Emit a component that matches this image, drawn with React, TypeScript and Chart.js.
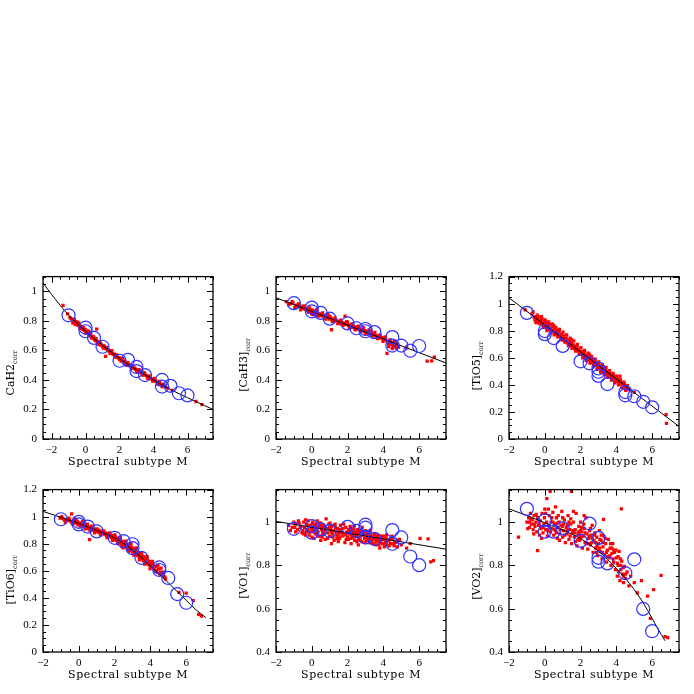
import React, { useEffect, useRef } from "react";
import { Chart, registerables } from "chart.js";
Chart.register(...registerables);

// ---------------- data ----------------
const xTicks = [-2, 0, 2, 4, 6];
const yTicksA = [0, 0.2, 0.4, 0.6, 0.8, 1];
const yTicksB = [0, 0.2, 0.4, 0.6, 0.8, 1, 1.2];
const yTicksC = [0.4, 0.6, 0.8, 1];
const xTitle = "Spectral subtype M";

// CaH2 (flat x,y pairs)
const cah2Dots = [
  -1.32,0.905, -1.05,0.848, -0.92,0.822, -0.85,0.815, -0.78,0.808, -0.72,0.8, -0.68,0.792, -0.62,0.79,
  -0.58,0.782, -0.55,0.795, -0.5,0.78, -0.46,0.772, -0.42,0.778, -0.38,0.768, -0.35,0.762, -0.3,0.765,
  -0.27,0.755, -0.22,0.752, -0.18,0.745, -0.14,0.748, -0.1,0.74, -0.06,0.735, -0.02,0.742, 0.03,0.728,
  0.08,0.722, 0.12,0.716, 0.16,0.72, 0.2,0.708, 0.24,0.705, 0.28,0.7, 0.33,0.695, 0.37,0.69, 0.42,0.688,
  0.46,0.682, 0.52,0.676, 0.56,0.67, 0.62,0.664, 0.66,0.745, 0.7,0.658, 0.76,0.652, 0.82,0.646, 0.88,0.64,
  0.95,0.634, 1.02,0.628, 1.08,0.622, 1.14,0.616, 1.18,0.56, 1.22,0.61, 1.3,0.604, 1.36,0.597, 1.42,0.592,
  1.5,0.586, 1.58,0.578, 1.66,0.572, 1.74,0.565, 1.82,0.558, 1.9,0.552, 1.98,0.545, 2.06,0.54, 2.14,0.532,
  2.22,0.526, 2.3,0.52, 2.38,0.513, 2.46,0.508, 2.54,0.5, 2.62,0.495, 2.7,0.49, 2.78,0.482, 2.86,0.478,
  2.94,0.472, 3.02,0.467, 3.1,0.46, 3.18,0.456, 3.26,0.45, 3.34,0.444, 3.42,0.44, 3.5,0.433, 3.58,0.428,
  3.66,0.422, 3.74,0.416, 3.82,0.41, 3.9,0.406, 3.98,0.4, 4.06,0.395, 4.14,0.39, 4.22,0.385, 4.3,0.378,
  4.38,0.374, 4.46,0.368, 4.54,0.362, 4.62,0.358, 4.7,0.352, 4.85,0.345, 5.1,0.33, 6.5,0.254, 6.85,0.232,
  -0.6,0.775, -0.4,0.785, -0.2,0.76, 0.0,0.72, 0.1,0.73, 0.3,0.71, 0.5,0.685, 0.6,0.675, 0.9,0.645,
  1.1,0.63, 1.4,0.6, 1.7,0.575, 2.0,0.55, 2.3,0.525, 2.6,0.5, 2.9,0.48, 3.2,0.46, 3.5,0.44, 3.8,0.418,
  4.1,0.398, 4.4,0.37, 3.0,0.46, 2.0,0.538, 1.0,0.625,
  -0.75,0.785, -0.65,0.81, -0.45,0.79, -0.32,0.75, -0.12,0.755, 0.05,0.715, 0.18,0.73, 0.35,0.685,
  0.45,0.695, 0.62,0.68, 0.78,0.64, 0.85,0.655, 1.05,0.615, 1.25,0.62, 1.45,0.58, 1.55,0.598, 1.75,0.555,
  1.85,0.57, 2.1,0.528, 2.2,0.545, 2.4,0.5, 2.5,0.518, 2.7,0.478, 2.8,0.495, 3.05,0.455, 3.15,0.47,
  3.35,0.432, 3.45,0.45, 3.65,0.41, 3.75,0.428, 3.95,0.392, 4.05,0.41, 4.25,0.372, 4.35,0.39, 4.5,0.355,
  4.6,0.372,
];
const cah2Stds = [
  -1,0.838, 0,0.755, 0,0.73, 0.5,0.685, 1,0.625, 2,0.53, 2.5,0.536, 3,0.488, 3,0.46, 3.5,0.433,
  4.5,0.4, 4.5,0.355, 5,0.36, 5.5,0.31, 6,0.295,
];
const cah2Fit = [
  -2.5,1.057, -2,0.98, -1.5,0.907, -1,0.84, -0.5,0.785, 0,0.73, 0.5,0.68, 1,0.635, 1.5,0.59, 2,0.545,
  2.5,0.505, 3,0.47, 3.5,0.435, 4,0.4, 4.5,0.367, 5,0.335, 5.5,0.307, 6,0.28, 6.5,0.253, 7,0.227, 7.5,0.2,
];

// CaH3
const cah3Dots = [
  -1.42,0.93, -1.2,0.915, -1.05,0.92, -0.9,0.905, -0.8,0.9, -0.7,0.9, -0.6,0.892, -0.52,0.885, -0.45,0.888,
  -0.38,0.878, -0.3,0.882, -0.25,0.872, -0.18,0.875, -0.1,0.868, -0.05,0.858, 0.0,0.845, 0.05,0.87, 0.1,0.855,
  0.15,0.862, 0.2,0.85, 0.28,0.855, 0.35,0.845, 0.42,0.848, 0.5,0.838, 0.55,0.842, 0.62,0.832, 0.7,0.835,
  0.78,0.826, 0.85,0.83, 0.92,0.82, 1.0,0.812, 1.05,0.822, 1.1,0.74, 1.12,0.808, 1.2,0.812, 1.28,0.802,
  1.35,0.805, 1.42,0.795, 1.5,0.798, 1.58,0.79, 1.65,0.792, 1.72,0.784, 1.8,0.786, 1.86,0.832, 1.9,0.776,
  1.98,0.78, 2.05,0.77, 2.12,0.772, 2.2,0.764, 2.28,0.766, 2.35,0.756, 2.42,0.76, 2.5,0.75, 2.58,0.752,
  2.65,0.742, 2.72,0.745, 2.8,0.736, 2.88,0.738, 2.95,0.728, 3.02,0.732, 3.1,0.72, 3.18,0.724, 3.25,0.714,
  3.32,0.716, 3.4,0.706, 3.48,0.71, 3.55,0.7, 3.62,0.702, 3.7,0.692, 3.78,0.695, 3.85,0.684, 3.92,0.688,
  4.0,0.676, 4.08,0.68, 4.15,0.668, 4.2,0.58, 4.25,0.66, 4.32,0.664, 4.4,0.645, 4.45,0.655, 4.52,0.638,
  4.6,0.645, 4.68,0.628, 4.75,0.635, 4.85,0.622, 5.3,0.618, 6.45,0.528, 6.7,0.53, 6.85,0.555,
  0.3,0.835, 0.8,0.812, 1.6,0.78, 2.4,0.745, 3.0,0.715, 3.6,0.69, 4.3,0.645, 4.1,0.69, 2.0,0.79, 1.0,0.83,
  0.0,0.875, -0.5,0.9, 3.3,0.73,
  -1.3,0.91, -1.1,0.93, -0.95,0.89, -0.75,0.915, -0.62,0.875, -0.4,0.9, -0.2,0.86, -0.12,0.888, 0.08,0.842,
  0.25,0.872, 0.4,0.832, 0.6,0.855, 0.75,0.815, 0.9,0.842, 1.15,0.795, 1.3,0.82, 1.45,0.782, 1.62,0.805,
  1.75,0.77, 1.95,0.795, 2.1,0.755, 2.25,0.78, 2.45,0.74, 2.6,0.765, 2.75,0.728, 2.9,0.752, 3.05,0.712,
  3.2,0.738, 3.38,0.696, 3.52,0.722, 3.68,0.68, 3.82,0.705, 3.98,0.662, 4.12,0.688, 4.28,0.645, 4.38,0.672,
  4.55,0.625, 4.62,0.66, 4.72,0.618, 4.8,0.645, 4.3,0.625, 4.5,0.612,
];
const cah3Stds = [
  -1,0.92, 0,0.89, 0,0.865, 0.5,0.854, 1,0.815, 2,0.783, 2.5,0.75, 3,0.745, 3,0.73, 3.5,0.724,
  4.5,0.69, 4.5,0.633, 5,0.633, 5.5,0.598, 6,0.63,
];
const cah3Fit = [-2,0.957, 7.5,0.515];

// TiO5
const tio5Dots = [
  -1.1,0.955, -0.72,0.925, -0.6,0.9, -0.55,0.88, -0.5,0.905, -0.45,0.87, -0.4,0.89, -0.35,0.86, -0.3,0.9,
  -0.25,0.875, -0.2,0.855, -0.15,0.885, -0.1,0.845, -0.05,0.87, 0.0,0.83, 0.05,0.86, 0.1,0.82, 0.15,0.85,
  0.2,0.835, 0.25,0.81, 0.3,0.845, 0.35,0.82, 0.4,0.8, 0.45,0.83, 0.5,0.79, 0.55,0.81, 0.6,0.775, 0.65,0.8,
  0.7,0.785, 0.75,0.76, 0.8,0.79, 0.85,0.77, 0.9,0.75, 0.95,0.775, 1.0,0.73, 1.05,0.76, 1.1,0.74, 1.15,0.72,
  1.2,0.745, 1.25,0.71, 1.3,0.73, 1.35,0.7, 1.4,0.72, 1.45,0.69, 1.5,0.71, 1.55,0.68, 1.6,0.695, 1.65,0.67,
  1.7,0.685, 1.75,0.66, 1.8,0.675, 1.85,0.65, 1.9,0.665, 1.95,0.635, 2.0,0.65, 2.05,0.625, 2.1,0.645,
  2.15,0.615, 2.2,0.63, 2.25,0.6, 2.3,0.62, 2.35,0.595, 2.4,0.61, 2.45,0.585, 2.5,0.6, 2.55,0.575, 2.6,0.59,
  2.65,0.565, 2.7,0.58, 2.75,0.55, 2.8,0.57, 2.85,0.545, 2.9,0.56, 2.95,0.53, 3.0,0.55, 3.05,0.525, 3.1,0.54,
  3.15,0.51, 3.2,0.53, 3.25,0.5, 3.3,0.52, 3.35,0.495, 3.4,0.51, 3.45,0.48, 3.5,0.5, 3.55,0.475, 3.6,0.49,
  3.65,0.465, 3.7,0.48, 3.75,0.455, 3.8,0.47, 3.85,0.445, 3.9,0.46, 3.95,0.435, 4.0,0.45, 4.05,0.425,
  4.1,0.44, 4.15,0.415, 4.2,0.465, 4.25,0.42, 4.3,0.405, 4.35,0.415, 4.4,0.39, 4.45,0.405, 4.5,0.38,
  4.55,0.39, 4.6,0.37, 4.7,0.365, 5.0,0.345, 6.78,0.18, 6.8,0.115,
  -0.65,0.94, -0.5,0.86, -0.42,0.915, -0.28,0.85, -0.18,0.905, -0.08,0.825, 0.02,0.88, 0.12,0.8, 0.22,0.865,
  0.32,0.79, 0.42,0.85, 0.52,0.77, 0.62,0.825, 0.72,0.755, 0.82,0.81, 0.92,0.735, 1.02,0.79, 1.12,0.715,
  1.22,0.77, 1.32,0.69, 1.42,0.745, 1.52,0.67, 1.62,0.725, 1.72,0.65, 1.82,0.7, 1.92,0.625, 2.02,0.675,
  2.12,0.6, 2.22,0.655, 2.32,0.58, 2.42,0.635, 2.52,0.56, 2.62,0.61, 2.72,0.54, 2.82,0.59, 2.92,0.515,
  3.02,0.57, 3.12,0.495, 3.22,0.55, 3.32,0.475, 3.42,0.53, 3.52,0.455, 3.62,0.505, 3.72,0.435, 3.82,0.485,
  3.92,0.415, 4.02,0.465, 4.12,0.4, 4.22,0.44, 4.32,0.38, 4.42,0.42, 4.52,0.36, 4.62,0.395, 0.5,0.84,
  1.5,0.735, 2.5,0.625,
];
const tio5Stds = [
  -1,0.932, 0,0.798, 0,0.775, 0.5,0.746, 1,0.688, 2,0.574, 2.5,0.559, 3,0.521, 3,0.497, 3,0.466,
  3.5,0.406, 4.5,0.347, 4.5,0.323, 5,0.316, 5.5,0.275, 6,0.234,
];
const tio5Fit = [-2,1.043, 7.5,0.093];

// TiO6
const tio6Dots = [
  -1.05,0.99, -0.9,0.985, -0.8,0.975, -0.7,0.98, -0.6,0.97, -0.5,0.975, -0.42,0.96, -0.4,1.02, -0.3,0.965,
  -0.2,0.955, -0.15,0.97, -0.1,0.95, -0.05,0.94, 0.05,0.955, 0.1,0.945, 0.15,0.935, 0.2,0.95, 0.25,0.93,
  0.3,0.94, 0.35,0.925, 0.4,0.935, 0.45,0.92, 0.5,0.93, 0.55,0.912, 0.6,0.83, 0.65,0.92, 0.7,0.905,
  0.75,0.915, 0.8,0.9, 0.85,0.91, 0.9,0.895, 0.95,0.905, 1.0,0.888, 1.1,0.9, 1.15,0.88, 1.2,0.895, 1.3,0.875,
  1.35,0.89, 1.45,0.868, 1.5,0.88, 1.55,0.86, 1.6,0.875, 1.7,0.855, 1.75,0.87, 1.8,0.845, 1.85,0.86,
  1.9,0.84, 1.95,0.855, 2.0,0.83, 2.05,0.85, 2.1,0.825, 2.15,0.84, 2.2,0.815, 2.25,0.835, 2.3,0.805,
  2.35,0.825, 2.4,0.8, 2.45,0.815, 2.5,0.79, 2.55,0.81, 2.6,0.78, 2.65,0.8, 2.7,0.77, 2.75,0.79, 2.8,0.76,
  2.85,0.785, 2.9,0.75, 2.95,0.775, 3.0,0.74, 3.05,0.765, 3.1,0.73, 3.15,0.755, 3.2,0.72, 3.25,0.745,
  3.3,0.71, 3.35,0.735, 3.4,0.7, 3.45,0.725, 3.5,0.69, 3.55,0.71, 3.6,0.675, 3.65,0.705, 3.7,0.665,
  3.75,0.69, 3.8,0.655, 3.85,0.68, 3.9,0.645, 3.95,0.67, 4.0,0.635, 4.05,0.655, 4.1,0.625, 4.15,0.645,
  4.2,0.615, 4.3,0.63, 4.35,0.6, 4.45,0.615, 4.55,0.59, 4.65,0.575, 4.75,0.56, 4.85,0.54, 5.6,0.44,
  6.0,0.435, 6.4,0.38, 6.7,0.278, 6.85,0.266,
  -0.95,1.0, -0.75,0.96, -0.55,0.99, -0.35,0.945, -0.25,0.985, -0.08,0.965, 0.08,0.93, 0.22,0.965, 0.38,0.91,
  0.48,0.945, 0.62,0.9, 0.72,0.93, 0.88,0.88, 1.02,0.91, 1.22,0.865, 1.4,0.895, 1.58,0.845, 1.72,0.88,
  1.88,0.825, 2.02,0.865, 2.18,0.8, 2.32,0.845, 2.48,0.77, 2.62,0.82, 2.78,0.745, 2.92,0.8, 3.08,0.715,
  3.22,0.77, 3.38,0.68, 3.52,0.735, 3.68,0.65, 3.82,0.705, 3.98,0.615, 4.12,0.67, 4.28,0.595, 4.42,0.64,
  4.52,0.575, 4.6,0.62, 4.7,0.59, 4.8,0.555, 2.4,0.78, 3.0,0.76, 3.6,0.69,
];
const tio6Stds = [
  -1,0.981, 0,0.962, 0,0.943, 0.5,0.927, 1,0.891, 2,0.844, 2.5,0.82, 3,0.796, 3,0.768, 3.5,0.696,
  4.5,0.625, 4.5,0.606, 5,0.547, 5.5,0.428, 6,0.364,
];
const tio6Fit = [
  -2,1.039, -1,0.995, 0,0.95, 0.5,0.925, 1,0.898, 1.5,0.872, 2,0.843, 2.5,0.802, 3,0.755, 3.5,0.7,
  4,0.635, 4.5,0.575, 5,0.512, 5.5,0.447, 6,0.382, 6.5,0.318, 7.1,0.254,
];

// VO1
const vo1Dots = [
  -1.3,0.985, -1.1,0.975, -1.0,1.0, -0.9,0.99, -0.8,0.965, -0.7,0.995, -0.6,0.98, -0.5,0.96, -0.45,1.0,
  -0.4,0.975, -0.35,0.94, -0.3,0.99, -0.25,0.965, -0.2,1.005, -0.15,0.955, -0.1,0.985, -0.05,0.97, 0.0,0.93,
  0.05,1.0, 0.1,0.96, 0.15,0.985, 0.2,0.945, 0.25,0.975, 0.3,1.005, 0.35,0.955, 0.4,0.98, 0.45,0.935,
  0.5,0.995, 0.55,0.965, 0.6,0.945, 0.65,0.985, 0.7,0.96, 0.75,0.92, 0.8,1.015, 0.85,0.97, 0.9,0.95,
  0.95,0.99, 1.0,0.935, 1.05,0.965, 1.1,0.98, 1.15,0.945, 1.2,0.96, 1.25,0.915, 1.3,0.99, 1.35,0.955,
  1.4,0.94, 1.45,0.97, 1.5,0.95, 1.55,0.925, 1.6,0.985, 1.65,0.96, 1.7,0.935, 1.75,0.97, 1.8,0.945,
  1.85,0.905, 1.9,0.975, 1.95,0.955, 2.0,0.93, 2.05,0.965, 2.1,0.945, 2.15,0.98, 2.2,0.925, 2.25,0.955,
  2.3,0.94, 2.35,0.97, 2.4,0.915, 2.45,0.95, 2.5,0.935, 2.55,0.965, 2.6,0.92, 2.65,0.945, 2.7,0.93,
  2.75,0.96, 2.8,0.91, 2.85,0.94, 2.9,0.955, 2.95,0.925, 3.0,0.945, 3.05,0.915, 3.1,0.935, 3.15,0.95,
  3.2,0.905, 3.25,0.93, 3.3,0.94, 3.35,0.915, 3.4,0.935, 3.45,0.9, 3.5,0.925, 3.55,0.94, 3.6,0.91,
  3.65,0.93, 3.7,0.915, 3.75,0.895, 3.8,0.925, 3.85,0.91, 3.9,0.935, 3.95,0.9, 4.0,0.92, 4.05,0.885,
  4.1,0.91, 4.15,0.925, 4.2,0.895, 4.3,0.915, 4.4,0.9, 4.5,0.92, 4.6,0.89, 4.7,0.905, 4.8,0.915, 5.0,0.895,
  5.3,0.88, 5.5,0.9, 6.05,0.925, 6.5,0.922, 6.65,0.816, 6.8,0.822, 3.8,0.88, 2.2,0.9, 0.5,0.915,
  -1.2,0.96, -0.95,0.975, -0.75,1.005, -0.55,0.95, -0.35,1.01, -0.15,0.94, 0.02,0.99, 0.12,0.925, 0.28,0.965,
  0.42,0.995, 0.58,0.93, 0.72,0.975, 0.88,0.925, 1.02,0.995, 1.18,0.93, 1.32,0.975, 1.48,0.91, 1.62,0.95,
  1.78,0.99, 1.92,0.92, 2.08,0.96, 2.22,0.94, 2.38,0.985, 2.52,0.91, 2.68,0.955, 2.82,0.975, 2.98,0.905,
  3.12,0.925, 3.28,0.96, 3.42,0.92, 3.58,0.895, 3.72,0.94, 3.88,0.92, 4.02,0.9, 4.18,0.94, 4.32,0.89,
  4.48,0.935, 4.62,0.905, 4.78,0.885, 4.9,0.92, 1.1,0.9, 2.6,0.895, 0.3,0.945,
  -0.9,0.955, -0.65,0.975, -0.45,0.945, -0.2,0.985, 0.0,0.955, 0.2,0.99, 0.35,0.935, 0.55,0.98, 0.7,0.945,
  0.9,0.97, 1.1,0.955, 1.25,0.985, 1.4,0.925, 1.55,0.965, 1.7,0.95, 1.9,0.94, 2.05,0.92, 2.2,0.965,
  2.35,0.93, 2.55,0.95, 2.7,0.915, 2.85,0.955, 3.0,0.925, 3.15,0.94, 3.3,0.905, 3.5,0.945, 3.65,0.92,
  3.8,0.905, 4.0,0.935, 4.2,0.91, 4.4,0.925, 4.55,0.9, -0.3,0.955, 0.6,0.96, 1.5,0.935, 2.4,0.955, 3.2,0.92,
  4.1,0.9, 1.0,0.975, 2.0,0.95, 3.0,0.96, 0.1,0.975,
];
const vo1Stds = [
  -1,0.969, 0,0.981, 0,0.951, 0.5,0.966, 1,0.959, 2,0.978, 2.5,0.959, 3,0.988, 3,0.974, 3,0.929,
  3.5,0.922, 4.5,0.963, 4.5,0.9, 5,0.929, 5.5,0.841, 6,0.801,
];
const vo1Fit = [-2,1.003, 7.5,0.875];

// VO2
const vo2Dots = [
  -1.47,0.931, -1.0,1.0, -0.9,1.02, -0.85,0.975, -0.8,1.04, -0.75,0.99, -0.7,1.01, -0.65,0.965, -0.6,1.03,
  -0.55,0.98, -0.5,1.0, -0.45,0.955, -0.4,0.868, -0.4,1.02, -0.35,0.985, -0.3,0.94, -0.25,1.005, -0.2,0.97,
  -0.15,1.04, -0.1,0.95, -0.05,0.99, 0.0,1.06, 0.05,0.965, 0.11,1.108, 0.1,1.0, 0.15,0.935, 0.2,0.985,
  0.25,1.03, 0.3,1.142, 0.3,0.955, 0.35,1.0, 0.4,0.97, 0.45,1.045, 0.5,0.94, 0.55,0.99, 0.6,0.96, 0.65,1.02,
  0.7,0.925, 0.75,0.975, 0.8,1.0, 0.85,0.945, 0.9,0.985, 0.95,1.05, 1.0,0.93, 1.05,0.96, 1.1,1.01,
  1.15,0.905, 1.2,0.975, 1.25,0.945, 1.3,1.03, 1.35,0.92, 1.4,0.965, 1.45,0.99, 1.49,1.142, 1.5,0.9,
  1.55,0.95, 1.6,1.0, 1.65,0.93, 1.7,0.965, 1.75,1.04, 1.8,0.89, 1.85,0.945, 1.9,0.98, 1.95,0.915, 2.0,1.0,
  2.05,0.955, 2.1,0.88, 2.15,0.935, 2.2,0.97, 2.25,0.905, 2.3,1.02, 2.35,0.945, 2.4,0.875, 2.45,0.925,
  2.5,0.96, 2.55,0.895, 2.6,0.94, 2.65,0.985, 2.7,0.86, 2.75,0.915, 2.8,0.95, 2.85,0.88, 2.9,0.93,
  2.95,0.845, 3.0,0.9, 3.05,0.96, 3.1,0.865, 3.15,0.915, 3.2,0.83, 3.25,0.885, 3.28,1.012, 3.3,0.935,
  3.35,0.85, 3.4,0.9, 3.45,0.815, 3.5,0.87, 3.55,0.92, 3.6,0.835, 3.65,0.88, 3.7,0.8, 3.75,0.855, 3.8,0.9,
  3.85,0.815, 3.9,0.86, 3.95,0.78, 4.0,0.835, 4.05,0.75, 4.1,0.8, 4.15,0.865, 4.2,0.73, 4.25,0.78,
  4.28,1.061, 4.3,0.82, 4.35,0.76, 4.4,0.72, 4.45,0.795, 4.5,0.74, 4.6,0.77, 4.7,0.705, 4.8,0.75, 5.0,0.72,
  5.17,0.673, 5.4,0.73, 5.74,0.658, 5.9,0.555, 6.08,0.688, 6.5,0.754, 6.72,0.471, 6.87,0.466,
  -0.95,0.97, -0.78,1.015, -0.62,0.945, -0.48,1.035, -0.32,0.99, -0.18,0.925, -0.02,1.02, 0.18,0.96,
  0.38,1.02, 0.52,0.965, 0.68,0.995, 0.82,0.915, 0.98,0.98, 1.12,0.94, 1.28,0.985, 1.42,0.935, 1.58,0.96,
  1.72,0.91, 1.88,0.955, 2.02,0.93, 2.18,0.99, 2.32,0.9, 2.48,0.935, 2.62,0.905, 2.78,0.94, 2.92,0.89,
  3.08,0.92, 3.22,0.86, 3.38,0.925, 3.52,0.84, 3.68,0.9, 3.82,0.83, 3.98,0.87, 4.12,0.77, 4.22,0.83,
  4.38,0.79, 4.52,0.76, 1.0,1.02, 2.0,0.96, 3.0,0.87, 0.2,1.06, 0.6,1.07, 1.6,1.05, 2.2,1.03,
  -0.85,1.0, -0.6,0.99, -0.35,1.01, -0.1,0.975, 0.05,1.04, 0.25,0.975, 0.45,1.0, 0.65,0.95, 0.85,0.965,
  1.05,0.99, 1.25,0.96, 1.45,1.015, 1.65,0.95, 1.85,0.92, 2.05,0.975, 2.25,0.95, 2.45,0.9, 2.65,0.925,
  2.85,0.905, 3.05,0.88, 3.25,0.905, 3.45,0.86, 3.65,0.845, 3.85,0.87, 4.05,0.81, 4.25,0.8, 4.4,0.75,
  1.35,1.0, 0.75,1.03, 2.55,0.97, 3.15,0.94, 3.75,0.88, 4.1,0.84, 2.9,0.86, 1.95,0.94,
];
const vo2Stds = [
  -1,1.061, 0,1.008, 0,0.956, 0.5,0.956, 1,0.971, 2,0.913, 2.5,0.993, 3,0.927, 3,0.835, 3,0.817,
  3.5,0.809, 4.5,0.764, 5,0.828, 5.5,0.599, 6,0.496,
];
const vo2Fit = [
  -2,1.061, -1,1.03, 0,0.997, 1,0.963, 1.5,0.945, 2,0.924, 2.5,0.897, 3,0.865, 3.5,0.828, 4,0.786,
  4.5,0.74, 5,0.688, 5.5,0.627, 6,0.555, 6.3,0.51, 6.72,0.452,
];

// ---------------- panels ----------------
const PW = 170, PH = 169, YW = 42, XH = 32, PT = 6, PR = 8;
const panels = [
  { left: 43, top: 270, xMin: -2.5, xMax: 7.5, yMin: 0, yMax: 1.1, yTicks: yTicksA, main: "CaH2", off: 15, dots: cah2Dots, stds: cah2Stds, fit: cah2Fit },
  { left: 276, top: 270, xMin: -2, xMax: 7.5, yMin: 0, yMax: 1.1, yTicks: yTicksA, main: "[CaH3]", off: 7, dots: cah3Dots, stds: cah3Stds, fit: cah3Fit },
  { left: 509, top: 270, xMin: -2, xMax: 7.5, yMin: 0, yMax: 1.2, yTicks: yTicksB, main: "[TiO5]", off: 8, dots: tio5Dots, stds: tio5Stds, fit: tio5Fit },
  { left: 43, top: 483, xMin: -2, xMax: 7.5, yMin: 0, yMax: 1.2, yTicks: yTicksB, main: "[TiO6]", off: 9, dots: tio6Dots, stds: tio6Stds, fit: tio6Fit },
  { left: 276, top: 483, xMin: -2, xMax: 7.5, yMin: 0.4, yMax: 1.15, yTicks: yTicksC, main: "[VO1]", off: 5, dots: vo1Dots, stds: vo1Stds, fit: vo1Fit },
  { left: 509, top: 483, xMin: -2, xMax: 7.5, yMin: 0.4, yMax: 1.15, yTicks: yTicksC, main: "[VO2]", off: 6, dots: vo2Dots, stds: vo2Stds, fit: vo2Fit },
];

const pairs = (a: number[]) => {
  const out: { x: number; y: number }[] = [];
  for (let i = 0; i + 1 < a.length; i += 2) out.push({ x: a[i], y: a[i + 1] });
  return out;
};

const SERIF = "'DejaVu Serif', serif";
const TICKFONT = "'Liberation Serif', serif";

const framePlugin = {
  id: "frame",
  afterDraw(chart: any, _args: any, opts: any) {
    const { ctx, chartArea: a, scales } = chart;
    const xs = scales.x, ys = scales.y;
    ctx.save();
    ctx.strokeStyle = "#000";
    ctx.lineWidth = 1;
    ctx.beginPath();
    const x0 = Math.ceil(xs.min / 0.5 - 1e-9) * 0.5;
    for (let v = x0; v <= xs.max + 1e-9; v += 0.5) {
      const k = Math.round(v * 2);
      const L = k % 4 === 0 ? 6 : 3;
      const px = Math.round(xs.getPixelForValue(v)) + 0.5;
      ctx.moveTo(px, a.bottom); ctx.lineTo(px, a.bottom - L);
      ctx.moveTo(px, a.top); ctx.lineTo(px, a.top + L);
    }
    const y0 = Math.ceil(ys.min / 0.05 - 1e-9) * 0.05;
    for (let v = y0; v <= ys.max + 1e-9; v += 0.05) {
      const k = Math.round(v * 20);
      const L = k % 4 === 0 ? 6 : 3;
      const py = Math.round(ys.getPixelForValue(v)) + 0.5;
      ctx.moveTo(a.left, py); ctx.lineTo(a.left + L, py);
      ctx.moveTo(a.right, py); ctx.lineTo(a.right - L, py);
    }
    ctx.stroke();
    ctx.lineWidth = 1.3;
    ctx.strokeRect(a.left, a.top, a.right - a.left, a.bottom - a.top);

    // x title
    ctx.fillStyle = "#000";
    ctx.font = `11px ${SERIF}`;
    (ctx as any).letterSpacing = "0.6px";
    ctx.textAlign = "center";
    ctx.textBaseline = "middle";
    ctx.fillText(opts.xTitle, (a.left + a.right) / 2, a.bottom + 23);

    // y title with subscript
    (ctx as any).letterSpacing = "0px";
    ctx.font = `11px ${SERIF}`;
    const wm = ctx.measureText(opts.main).width;
    ctx.font = `6.5px ${SERIF}`;
    const ws = ctx.measureText(opts.sub).width;
    const W = wm + ws;
    const cx = a.left - 32;
    const cy = (a.top + a.bottom) / 2 + opts.off;
    ctx.translate(cx, cy);
    ctx.rotate(-Math.PI / 2);
    ctx.textAlign = "left";
    ctx.font = `11px ${SERIF}`;
    ctx.fillText(opts.main, -W / 2, 0);
    ctx.font = `6.5px ${SERIF}`;
    ctx.fillText(opts.sub, -W / 2 + wm, 4);
    ctx.restore();
  },
};

const fmt = (v: number) => (v < 0 ? "\u2212" + Math.abs(v) : String(Math.round(v * 100) / 100));

function Panel(p: any) {
  const ref = useRef<HTMLCanvasElement>(null);
  useEffect(() => {
    const chart = new Chart(ref.current as HTMLCanvasElement, {
      type: "scatter",
      data: {
        datasets: [
          {
            data: pairs(p.stds),
            pointStyle: "circle",
            pointRadius: 6.5,
            borderColor: "#3030ff",
            backgroundColor: "rgba(0,0,0,0)",
            borderWidth: 1.2,
            order: 1,
          },
          {
            data: pairs(p.fit),
            showLine: true,
            pointRadius: 0,
            borderColor: "#000",
            borderWidth: 1,
            cubicInterpolationMode: "monotone",
            fill: false,
            order: 2,
          } as any,
          {
            data: pairs(p.dots),
            pointStyle: "rect",
            pointRadius: 2.3,
            backgroundColor: "#ff0000",
            borderWidth: 0,
            order: 3,
          },
        ],
      },
      options: {
        animation: false,
        responsive: false,
        events: [],
        layout: { padding: { top: PT, right: PR, left: 0, bottom: 0 } },
        plugins: {
          legend: { display: false },
          tooltip: { enabled: false },
          frame: { xTitle, main: p.main, sub: "corr", off: p.off },
        } as any,
        scales: {
          x: {
            type: "linear",
            min: p.xMin,
            max: p.xMax,
            grid: { display: false, drawTicks: false },
            border: { display: false },
            afterBuildTicks: (s: any) => { s.ticks = xTicks.map((v) => ({ value: v })); },
            afterFit: (s: any) => { s.height = XH; },
            ticks: { color: "#000", font: { family: TICKFONT, size: 11 }, padding: 5, maxRotation: 0, minRotation: 0, autoSkip: false, callback: (v: any) => fmt(Number(v)) },
          },
          y: {
            type: "linear",
            min: p.yMin,
            max: p.yMax,
            grid: { display: false, drawTicks: false },
            border: { display: false },
            afterBuildTicks: (s: any) => { s.ticks = p.yTicks.map((v: number) => ({ value: v })); },
            afterFit: (s: any) => { s.width = YW; },
            ticks: { color: "#000", font: { family: TICKFONT, size: 11 }, padding: 6, autoSkip: false, callback: (v: any) => fmt(Number(v)) },
          },
        },
      },
      plugins: [framePlugin],
    });
    return () => chart.destroy();
  }, []);
  const w = YW + PW + PR, h = PT + PH + XH;
  return (
    <canvas
      ref={ref}
      width={w}
      height={h}
      style={{ position: "absolute", left: p.left - YW, top: p.top - PT, width: w, height: h }}
    />
  );
}

export default function App() {
  return (
    <div style={{ position: "absolute", left: 0, top: 0, width: 694, height: 694, background: "#fff", overflow: "hidden" }}>
      {panels.map((p, i) => (
        <Panel key={i} {...p} />
      ))}
    </div>
  );
}
